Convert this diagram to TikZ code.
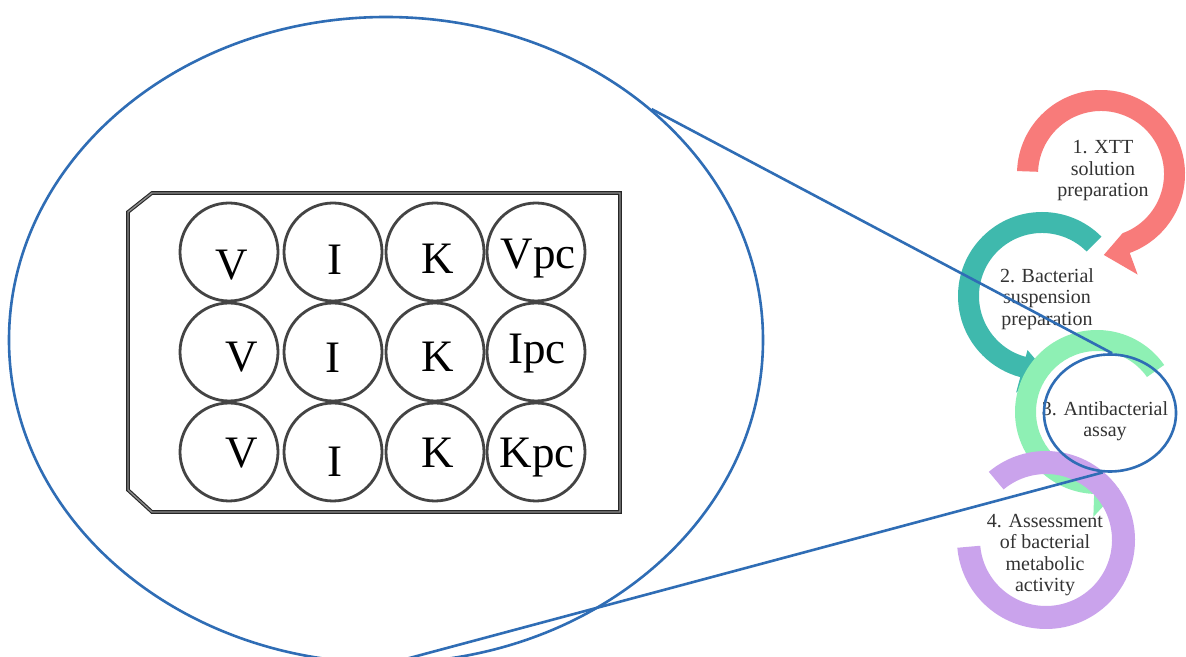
\documentclass[tikz,border=0pt]{standalone}
\usepackage{fontspec}
\setmainfont{Liberation Serif}
\usetikzlibrary{shapes.geometric}

\definecolor{zoomblue}{HTML}{2F6DB5}
\definecolor{stepred}{HTML}{F87B7A}
\definecolor{stepteal}{HTML}{3FB9AD}
\definecolor{stepgreen}{HTML}{8EF0B4}
\definecolor{steppurple}{HTML}{CAA3EC}
\definecolor{labelgray}{HTML}{333333}
\definecolor{wellgray}{HTML}{444444}

\tikzset{
  zoomring/.style={ellipse, draw=zoomblue, line width=2.6pt, inner sep=0pt},
  zoomline/.style={draw=zoomblue, line width=2.6pt},
  plateframe/.style={draw=black!85, line width=1.1pt, double=black!45, double distance=1.4pt, line join=miter},
  well/.style={circle, draw=wellgray, line width=2.8pt, minimum size=98pt, inner sep=0pt},
  welltext/.style={anchor=base, inner sep=0pt, text=black, font=\fontsize{45}{45}\selectfont},
  steptext/.style={align=center, inner sep=0pt, text=labelgray, font=\fontsize{20}{21.5}\selectfont},
}

\begin{document}
\begin{tikzpicture}[x=1pt,y=1pt]
\useasboundingbox (0,0) rectangle (1186,656);
\fill[white] (0,0) rectangle (1186,656);

% ---- cycle of the four steps ----
% 1: XTT solution preparation (clockwise, head at the bottom)
\begin{scope}[shift={(1101,482)}]
  \fill[stepred] (178:84) arc[start angle=178, end angle=-70, radius=84]
    -- (-70:107) -- (-88:81) -- (-70:63)
    arc[start angle=-70, end angle=178, radius=63] -- cycle;
\end{scope}
% 2: bacterial suspension preparation (anticlockwise)
\begin{scope}[shift={(1042,360)}]
  \fill[stepteal] (45:84) arc[start angle=45, end angle=255, radius=84]
    -- (255:100) -- (272:74) -- (255:56) -- (255:63)
    arc[start angle=255, end angle=45, radius=63] -- cycle;
\end{scope}
% 3: antibacterial assay (anticlockwise)
\begin{scope}[shift={(1097,244)}]
  \fill[stepgreen] (35:82) arc[start angle=35, end angle=268, radius=82]
    -- (268:105) -- (286:80) -- (268:61)
    arc[start angle=268, end angle=35, radius=61] -- cycle;
\end{scope}
% 4: assessment of metabolic activity (open ring, no head)
\begin{scope}[shift={(1046,116)}]
  \fill[steppurple] (130:89) arc[start angle=130, end angle=-175, radius=89]
    -- (-175:66) arc[start angle=-175, end angle=130, radius=66] -- cycle;
\end{scope}

\node[steptext] (s1) at (1103,485) {1. XTT\\solution\\preparation};
\node[steptext] (s2) at (1047,357) {2. Bacterial\\suspension\\preparation};
\node[steptext] (s3) at (1105,235) {3. Antibacterial\\assay};
\node[steptext] (s4) at (1045,101) {4. Assessment\\of bacterial\\metabolic\\activity};

% ---- 12-well plate ----
\draw[plateframe] (128,444) -- (152,463) -- (620,463) -- (620,144) -- (152,144) -- (128,166) -- cycle;

\node[well] (w11) at (229,404) {};
\node[well] (w12) at (333,404) {};
\node[well] (w13) at (435,404) {};
\node[well] (w14) at (536,404) {};
\node[well] (w21) at (229,304) {};
\node[well] (w22) at (333,304) {};
\node[well] (w23) at (435,304) {};
\node[well] (w24) at (536,304) {};
\node[well] (w31) at (229,204) {};
\node[well] (w32) at (333,204) {};
\node[well] (w33) at (435,204) {};
\node[well] (w34) at (536,204) {};

\node[welltext] (t11) at (232,376) {V};
\node[welltext] (t12) at (335,381) {I};
\node[welltext] (t13) at (438,382) {K};
\node[welltext] (t14) at (538,387) {Vpc};
\node[welltext] (t21) at (242,284) {V};
\node[welltext] (t22) at (333,283) {I};
\node[welltext] (t23) at (438,284) {K};
\node[welltext] (t24) at (537,292) {Ipc};
\node[welltext] (t31) at (242,188) {V};
\node[welltext] (t32) at (335,179) {I};
\node[welltext] (t33) at (438,188) {K};
\node[welltext] (t34) at (537,188) {Kpc};

% ---- magnifier: the plate is a close-up of step 3 ----
\node[zoomring, minimum width=754pt, minimum height=646pt] (big) at (386,316) {};
\node[zoomring, minimum width=132pt, minimum height=117pt] (small) at (1110,243) {};
\draw[zoomline] (big.41) -- (small.88);
\draw[zoomline] (big.south) -- (small.-97);
\end{tikzpicture}
\end{document}
